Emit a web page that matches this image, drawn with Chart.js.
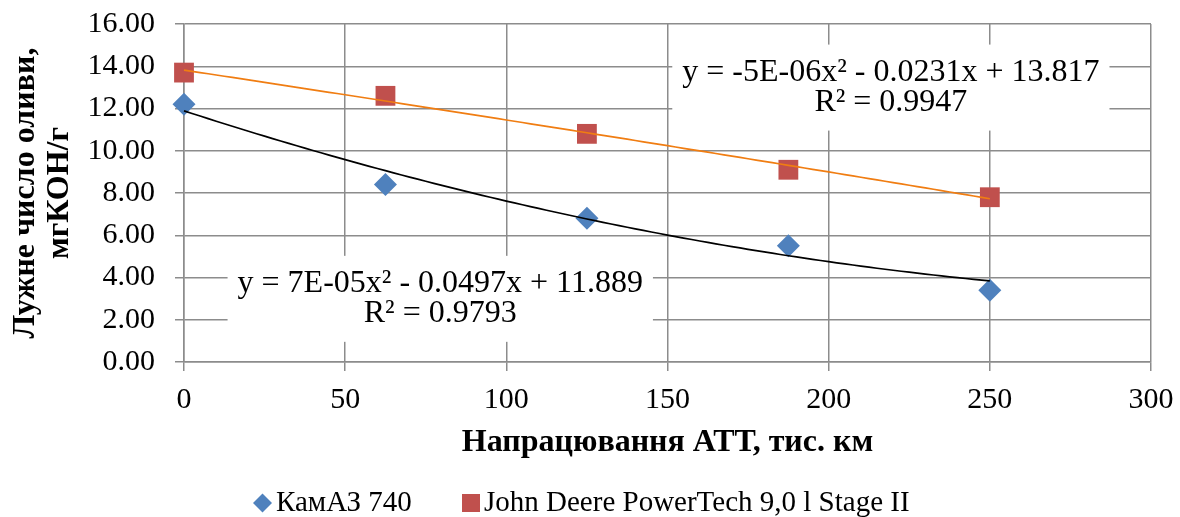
<!DOCTYPE html>
<html>
<head>
<meta charset="utf-8">
<script src="https://cdn.jsdelivr.net/npm/chart.js@4.4.1/dist/chart.umd.min.js"></script>
<style>
  html, body { margin: 0; padding: 0; background: #fff; }
  canvas { display: block; }
</style>
</head>
<body>
<canvas id="chart" width="1180" height="517"></canvas>
<script>
// Пробіг, тис. км
const mileage = [0, 62.5, 125, 187.5, 250];
// Лужне число, мгКОН/г
const kamaz = [12.2, 8.4, 6.8, 5.5, 3.4];
const deere = [13.7, 12.6, 10.8, 9.1, 7.8];
const seriesNames = ["КамАЗ 740", "John Deere PowerTech 9,0 l Stage II"];

// поліноміальні тренди: y = a*x^2 + b*x + c
const kamazFit = [7e-5, -0.0497, 11.889];
const deereFit = [-5e-6, -0.0231, 13.817];
const kamazEq = ["y = 7E-05x² - 0.0497x + 11.889", "R² = 0.9793"];
const deereEq = ["y = -5E-06x² - 0.0231x + 13.817", "R² = 0.9947"];

const SERIF = "'Liberation Serif', 'Times New Roman', serif";
const GRID = "#8c8c8c";
const BLUE = "#4f81bd";
const RED = "#c0504d";

function polyAt(fit, x) {
  return fit[0] * x * x + fit[1] * x + fit[2];
}

// лінії тренду поверх маркерів
const trendPlugin = {
  id: "trend",
  afterDatasetsDraw(c) {
    const { ctx } = c;
    const xs = c.scales.x, ys = c.scales.y;
    const lines = [
      { fit: kamazFit, color: "#000000" },
      { fit: deereFit, color: "#f07d12" },
    ];
    const xMax = mileage[mileage.length - 1];
    ctx.save();
    lines.forEach((l) => {
      ctx.strokeStyle = l.color;
      ctx.lineWidth = 1.7;
      ctx.beginPath();
      for (let i = 0; i <= 100; i++) {
        const xv = (xMax * i) / 100;
        const px = xs.getPixelForValue(xv);
        const py = ys.getPixelForValue(polyAt(l.fit, xv));
        if (i === 0) ctx.moveTo(px, py);
        else ctx.lineTo(px, py);
      }
      ctx.stroke();
    });

    // підписи рівнянь на білому тлі
    const labels = [
      { text: kamazEq, x: 79.5, y: 3.7 },
      { text: deereEq, x: 219.3, y: 13.7 },
    ];
    ctx.font = `32px ${SERIF}`;
    ctx.textAlign = "center";
    ctx.textBaseline = "middle";
    labels.forEach((lb) => {
      const cx = xs.getPixelForValue(lb.x);
      const cy = ys.getPixelForValue(lb.y);
      const w = Math.max(...lb.text.map((t) => ctx.measureText(t).width));
      ctx.fillStyle = "#fff";
      ctx.fillRect(cx - w / 2 - 10, cy - 28, w + 20, 30 + 56);
      ctx.fillStyle = "#000";
      lb.text.forEach((t, i) => ctx.fillText(t, cx, cy + i * 30));
    });
    ctx.restore();
  },
};

// легенда під віссю
const legendPlugin = {
  id: "bottomLegend",
  afterDraw(c) {
    const { ctx } = c;
    const y = c.height - 14;
    ctx.save();
    ctx.font = `29px ${SERIF}`;
    ctx.textBaseline = "middle";
    ctx.textAlign = "left";

    ctx.fillStyle = BLUE;
    ctx.beginPath();
    ctx.moveTo(253, y);
    ctx.lineTo(262.5, y - 9.5);
    ctx.lineTo(272, y);
    ctx.lineTo(262.5, y + 9.5);
    ctx.closePath();
    ctx.fill();
    ctx.fillStyle = "#000";
    ctx.fillText(seriesNames[0], 276, y);

    ctx.fillStyle = RED;
    ctx.fillRect(462, y - 9, 18, 18);
    ctx.fillStyle = "#000";
    ctx.fillText(seriesNames[1], 484, y);
    ctx.restore();
  },
};

new Chart(document.getElementById("chart"), {
  type: "scatter",
  data: {
    datasets: [
      {
        label: seriesNames[0],
        data: mileage.map((x, i) => ({ x, y: kamaz[i] })),
        pointStyle: "rectRot",
        pointRadius: 11.5,
        pointHoverRadius: 11.5,
        backgroundColor: BLUE,
        borderColor: BLUE,
        borderWidth: 0,
        clip: false,
      },
      {
        label: seriesNames[1],
        data: mileage.map((x, i) => ({ x, y: deere[i] })),
        pointStyle: "rect",
        pointRadius: 14,
        pointHoverRadius: 14,
        backgroundColor: RED,
        borderColor: RED,
        borderWidth: 0,
        clip: false,
      },
    ],
  },
  options: {
    responsive: false,
    animation: false,
    layout: { padding: { top: 24, right: 29, left: 0, bottom: 55 } },
    plugins: {
      legend: { display: false },
      tooltip: { enabled: false },
    },
    scales: {
      x: {
        type: "linear",
        min: 0,
        max: 300,
        ticks: {
          stepSize: 50,
          color: "#000",
          padding: 11,
          font: { family: SERIF, size: 30 },
        },
        grid: { color: GRID, lineWidth: 1.5, tickLength: 9 },
        border: { color: GRID, width: 1.5 },
        title: {
          display: true,
          text: "Напрацювання АТТ, тис. км",
          color: "#000",
          font: { family: SERIF, size: 32, weight: "bold" },
          padding: { top: 0, bottom: 0 },
        },
        afterFit(s) {
          s.height = 100;
          s.paddingLeft = 0;
          s.paddingRight = 0;
        },
      },
      y: {
        min: 0,
        max: 16,
        ticks: {
          stepSize: 2,
          color: "#000",
          padding: 20,
          font: { family: SERIF, size: 30 },
          callback: (v) => v.toFixed(2),
        },
        grid: { color: GRID, lineWidth: 1.5, tickLength: 9 },
        border: { color: GRID, width: 1.5 },
        title: {
          display: true,
          text: ["Лужне число оливи,", "мгКОН/г"],
          color: "#000",
          font: { family: SERIF, size: 32, weight: "bold", lineHeight: 1.05 },
          padding: { top: 9, bottom: 0 },
        },
        afterFit(s) {
          s.width = 184;
          s.paddingTop = 0;
          s.paddingBottom = 0;
        },
      },
    },
  },
  plugins: [trendPlugin, legendPlugin],
});
</script>
</body>
</html>
